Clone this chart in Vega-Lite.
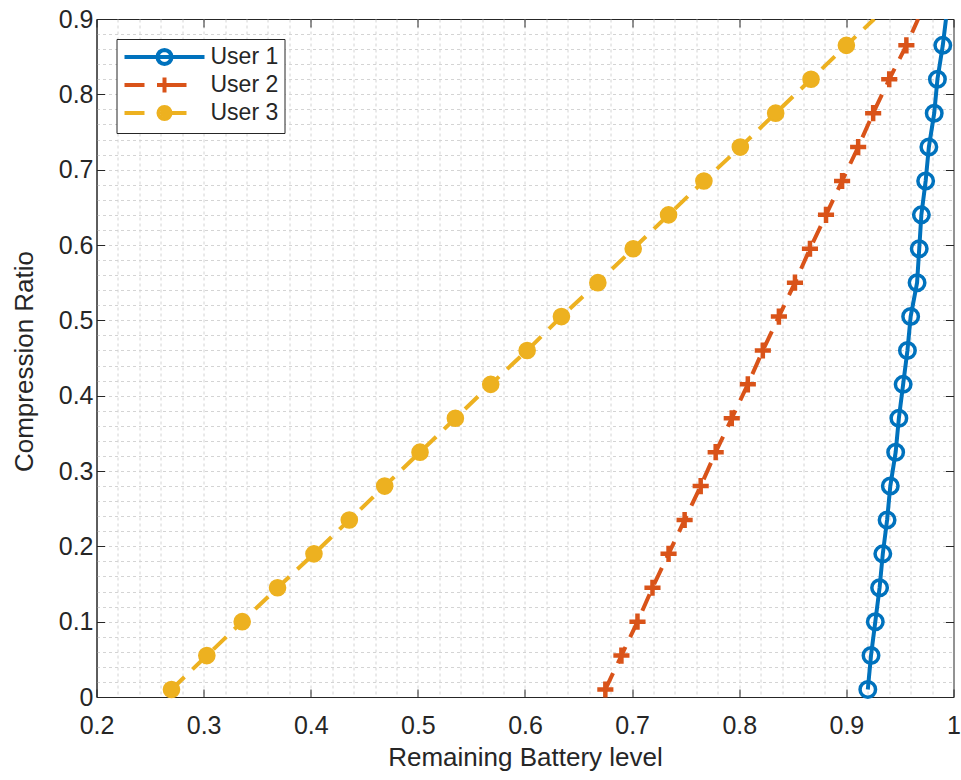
{
  "$schema": "https://vega.github.io/schema/vega-lite/v6.json",
  "width": 857,
  "height": 678,
  "autosize": {"type": "none"},
  "padding": {"left": 96.5, "top": 19, "right": 7.5, "bottom": 83},
  "background": "white",
  "config": {
    "view": {"stroke": "#262626", "strokeWidth": 1},
    "axis": {
      "domainColor": "#262626",
      "tickColor": "#262626",
      "labelColor": "#262626",
      "titleColor": "#262626",
      "labelFont": "Liberation Sans",
      "titleFont": "Liberation Sans",
      "labelFontSize": 25,
      "titleFontSize": 26,
      "titleFontWeight": "normal",
      "domainWidth": 1,
      "tickWidth": 1,
      "labelOverlap": false,
      "labelFlush": false
    }
  },
  "data": {
    "values": [
      {"series": "User 1", "x": 0.920, "y": 0.010},
      {"series": "User 1", "x": 0.923, "y": 0.055},
      {"series": "User 1", "x": 0.927, "y": 0.100},
      {"series": "User 1", "x": 0.931, "y": 0.145},
      {"series": "User 1", "x": 0.934, "y": 0.190},
      {"series": "User 1", "x": 0.938, "y": 0.235},
      {"series": "User 1", "x": 0.941, "y": 0.280},
      {"series": "User 1", "x": 0.946, "y": 0.325},
      {"series": "User 1", "x": 0.949, "y": 0.370},
      {"series": "User 1", "x": 0.953, "y": 0.415},
      {"series": "User 1", "x": 0.957, "y": 0.460},
      {"series": "User 1", "x": 0.960, "y": 0.505},
      {"series": "User 1", "x": 0.966, "y": 0.550},
      {"series": "User 1", "x": 0.968, "y": 0.595},
      {"series": "User 1", "x": 0.970, "y": 0.640},
      {"series": "User 1", "x": 0.974, "y": 0.685},
      {"series": "User 1", "x": 0.977, "y": 0.730},
      {"series": "User 1", "x": 0.982, "y": 0.775},
      {"series": "User 1", "x": 0.985, "y": 0.820},
      {"series": "User 1", "x": 0.990, "y": 0.865},
      {"series": "User 1", "x": 0.993, "y": 0.900},
      {"series": "User 2", "x": 0.675, "y": 0.010},
      {"series": "User 2", "x": 0.690, "y": 0.055},
      {"series": "User 2", "x": 0.705, "y": 0.100},
      {"series": "User 2", "x": 0.719, "y": 0.145},
      {"series": "User 2", "x": 0.734, "y": 0.190},
      {"series": "User 2", "x": 0.749, "y": 0.235},
      {"series": "User 2", "x": 0.764, "y": 0.280},
      {"series": "User 2", "x": 0.778, "y": 0.325},
      {"series": "User 2", "x": 0.793, "y": 0.370},
      {"series": "User 2", "x": 0.808, "y": 0.415},
      {"series": "User 2", "x": 0.822, "y": 0.460},
      {"series": "User 2", "x": 0.837, "y": 0.505},
      {"series": "User 2", "x": 0.852, "y": 0.550},
      {"series": "User 2", "x": 0.866, "y": 0.595},
      {"series": "User 2", "x": 0.881, "y": 0.640},
      {"series": "User 2", "x": 0.896, "y": 0.685},
      {"series": "User 2", "x": 0.911, "y": 0.730},
      {"series": "User 2", "x": 0.925, "y": 0.775},
      {"series": "User 2", "x": 0.940, "y": 0.820},
      {"series": "User 2", "x": 0.956, "y": 0.865},
      {"series": "User 2", "x": 0.967, "y": 0.900},
      {"series": "User 3", "x": 0.270, "y": 0.010},
      {"series": "User 3", "x": 0.303, "y": 0.055},
      {"series": "User 3", "x": 0.336, "y": 0.100},
      {"series": "User 3", "x": 0.369, "y": 0.145},
      {"series": "User 3", "x": 0.403, "y": 0.190},
      {"series": "User 3", "x": 0.436, "y": 0.235},
      {"series": "User 3", "x": 0.469, "y": 0.280},
      {"series": "User 3", "x": 0.502, "y": 0.325},
      {"series": "User 3", "x": 0.535, "y": 0.370},
      {"series": "User 3", "x": 0.568, "y": 0.415},
      {"series": "User 3", "x": 0.602, "y": 0.460},
      {"series": "User 3", "x": 0.634, "y": 0.505},
      {"series": "User 3", "x": 0.668, "y": 0.550},
      {"series": "User 3", "x": 0.701, "y": 0.595},
      {"series": "User 3", "x": 0.734, "y": 0.640},
      {"series": "User 3", "x": 0.767, "y": 0.685},
      {"series": "User 3", "x": 0.801, "y": 0.730},
      {"series": "User 3", "x": 0.834, "y": 0.775},
      {"series": "User 3", "x": 0.867, "y": 0.820},
      {"series": "User 3", "x": 0.900, "y": 0.865},
      {"series": "User 3", "x": 0.926, "y": 0.900}
    ]
  },
  "resolve": {"axis": {"x": "independent", "y": "independent"}},
  "layer": [
    {
      "transform": [{"filter": "datum.series === 'User 1'"}],
      "mark": {"type": "line", "strokeWidth": 4, "clip": true, "color": "#0072BD"},
      "encoding": {
        "x": {
          "field": "x", "type": "quantitative",
          "scale": {"domain": [0.2, 1], "nice": false, "zero": false},
          "axis": {
            "orient": "bottom",
            "title": "Remaining Battery level",
            "values": [0.2,0.22,0.24,0.26,0.28,0.3,0.32,0.34,0.36,0.38,0.4,0.42,0.44,0.46,0.48,0.5,0.52,0.54,0.56,0.58,0.6,0.62,0.64,0.66,0.68,0.7,0.72,0.74,0.76,0.78,0.8,0.82,0.84,0.86,0.88,0.9,0.92,0.94,0.96,0.98,1.0],
            "grid": true,
            "gridColor": "#d4d4d4",
            "gridDash": [3, 3],
            "gridWidth": 1,
            "gridOpacity": {"condition": {"test": "datum.value < 0.201 || datum.value > 0.999", "value": 0}, "value": 1},
            "tickSize": -8,
            "tickOpacity": {"condition": {"test": "abs(datum.value*10 - round(datum.value*10)) < 0.001", "value": 1}, "value": 0},
            "labelExpr": "abs(datum.value*10 - round(datum.value*10)) < 0.001 ? format(datum.value, '~g') : ''",
            "labelFont": "Liberation Sans",
            "labelFontSize": 25,
            "labelPadding": 24,
            "titleY": 68.7,
            "titleBaseline": "alphabetic"
          }
        },
        "y": {
          "field": "y", "type": "quantitative",
          "scale": {"domain": [0, 0.9], "nice": false, "zero": false},
          "axis": {
            "orient": "left",
            "title": "Compression Ratio",
            "values": [0,0.02,0.04,0.06,0.08,0.1,0.12,0.14,0.16,0.18,0.2,0.22,0.24,0.26,0.28,0.3,0.32,0.34,0.36,0.38,0.4,0.42,0.44,0.46,0.48,0.5,0.52,0.54,0.56,0.58,0.6,0.62,0.64,0.66,0.68,0.7,0.72,0.74,0.76,0.78,0.8,0.82,0.84,0.86,0.88,0.9],
            "grid": true,
            "gridColor": "#d4d4d4",
            "gridDash": [3, 3],
            "gridWidth": 1,
            "gridOpacity": {"condition": {"test": "datum.value < 0.001 || datum.value > 0.899", "value": 0}, "value": 1},
            "tickSize": -8,
            "tickOpacity": {"condition": {"test": "abs(datum.value*10 - round(datum.value*10)) < 0.001", "value": 1}, "value": 0},
            "labelExpr": "abs(datum.value*10 - round(datum.value*10)) < 0.001 ? format(datum.value, '~g') : ''",
            "labelFont": "Liberation Sans",
            "labelFontSize": 25,
            "labelPadding": 11.5,
            "titleX": -63.8,
            "titleY": 342,
            "titleBaseline": "alphabetic"
          }
        }
      }
    },
    {
      "transform": [{"filter": "datum.series === 'User 2'"}],
      "mark": {"type": "line", "strokeWidth": 4, "clip": true, "color": "#D95319", "strokeDash": [18, 11]},
      "encoding": {
        "x": {"field": "x", "type": "quantitative", "axis": null},
        "y": {"field": "y", "type": "quantitative", "axis": null}
      }
    },
    {
      "transform": [{"filter": "datum.series === 'User 3'"}],
      "mark": {"type": "line", "strokeWidth": 4, "clip": true, "color": "#EDB120", "strokeDash": [18, 11]},
      "encoding": {
        "x": {"field": "x", "type": "quantitative", "axis": null},
        "y": {"field": "y", "type": "quantitative", "axis": null}
      }
    },
    {
      "transform": [{"filter": "datum.series === 'User 1' && datum.y < 0.89"}],
      "mark": {"type": "point", "shape": "circle", "filled": false, "size": 240, "strokeWidth": 3.5, "color": "#0072BD", "opacity": 1},
      "encoding": {
        "x": {
          "field": "x", "type": "quantitative",
          "axis": {
            "orient": "top",
            "values": [0.2,0.3,0.4,0.5,0.6,0.7,0.8,0.9,1.0],
            "labels": false, "domain": false, "grid": false, "ticks": true,
            "tickSize": -8, "title": null
          }
        },
        "y": {
          "field": "y", "type": "quantitative",
          "axis": {
            "orient": "right",
            "values": [0,0.1,0.2,0.3,0.4,0.5,0.6,0.7,0.8,0.9],
            "labels": false, "domain": false, "grid": false, "ticks": true,
            "tickSize": -8, "title": null
          }
        }
      }
    },
    {
      "transform": [{"filter": "datum.series === 'User 2' && datum.y < 0.89"}],
      "mark": {"type": "point", "shape": "M-1,0H1M0,-1V1", "filled": false, "size": 260, "strokeWidth": 4.5, "color": "#D95319", "opacity": 1},
      "encoding": {
        "x": {"field": "x", "type": "quantitative", "axis": null},
        "y": {"field": "y", "type": "quantitative", "axis": null}
      }
    },
    {
      "transform": [{"filter": "datum.series === 'User 3' && datum.y < 0.89"}],
      "mark": {"type": "point", "shape": "circle", "filled": true, "size": 260, "strokeWidth": 1.5, "stroke": "#EDB120", "color": "#EDB120", "opacity": 1},
      "encoding": {
        "x": {"field": "x", "type": "quantitative", "axis": null},
        "y": {"field": "y", "type": "quantitative", "axis": null}
      }
    },
    {
      "mark": {"type": "point", "filled": false, "opacity": 0, "strokeWidth": 4},
      "encoding": {
        "x": {"field": "x", "type": "quantitative", "axis": null},
        "y": {"field": "y", "type": "quantitative", "axis": null},
        "shape": {
          "field": "series", "type": "nominal",
          "scale": {"domain": ["User 1", "User 2", "User 3"], "range": [
            "M-4,0H4M0.7,0L0.647,0.268L0.495,0.495L0.268,0.647L0,0.7L-0.268,0.647L-0.495,0.495L-0.647,0.268L-0.7,0L-0.647,-0.268L-0.495,-0.495L-0.268,-0.647L0,-0.7L0.268,-0.647L0.495,-0.495L0.647,-0.268Z",
            "M-4,0H-2M-0.75,0H2.2M0,-0.75V0.75",
            "M-4,0H-2M0,0H2.2M0.6,0L0.554,0.23L0.424,0.424L0.23,0.554L0,0.6L-0.23,0.554L-0.424,0.424L-0.554,0.23L-0.6,0L-0.554,-0.23L-0.424,-0.424L-0.23,-0.554L0,-0.6L0.23,-0.554L0.424,-0.424L0.554,-0.23ZM0.2,0L0.141,0.141L0,0.2L-0.141,0.141L-0.2,0L-0.141,-0.141L0,-0.2L0.141,-0.141Z"
          ]},
          "legend": {
            "title": null, "orient": "top-left", "offset": 20,
            "padding": 6, "strokeColor": "#262626", "fillColor": "white",
            "symbolSize": 400, "symbolStrokeWidth": 4, "symbolOpacity": 1,
            "symbolOffset": 30, "rowPadding": -3,
            "labelFont": "Liberation Sans", "labelFontSize": 23, "labelColor": "#262626", "labelOffset": 34
          }
        },
        "color": {
          "field": "series", "type": "nominal",
          "scale": {"domain": ["User 1", "User 2", "User 3"], "range": ["#0072BD", "#D95319", "#EDB120"]},
          "legend": {
            "title": null, "orient": "top-left", "offset": 20,
            "padding": 6, "strokeColor": "#262626", "fillColor": "white",
            "symbolSize": 400, "symbolStrokeWidth": 4, "symbolOpacity": 1,
            "symbolOffset": 30, "rowPadding": -3,
            "labelFont": "Liberation Sans", "labelFontSize": 23, "labelColor": "#262626", "labelOffset": 34
          }
        }
      }
    }
  ]
}
